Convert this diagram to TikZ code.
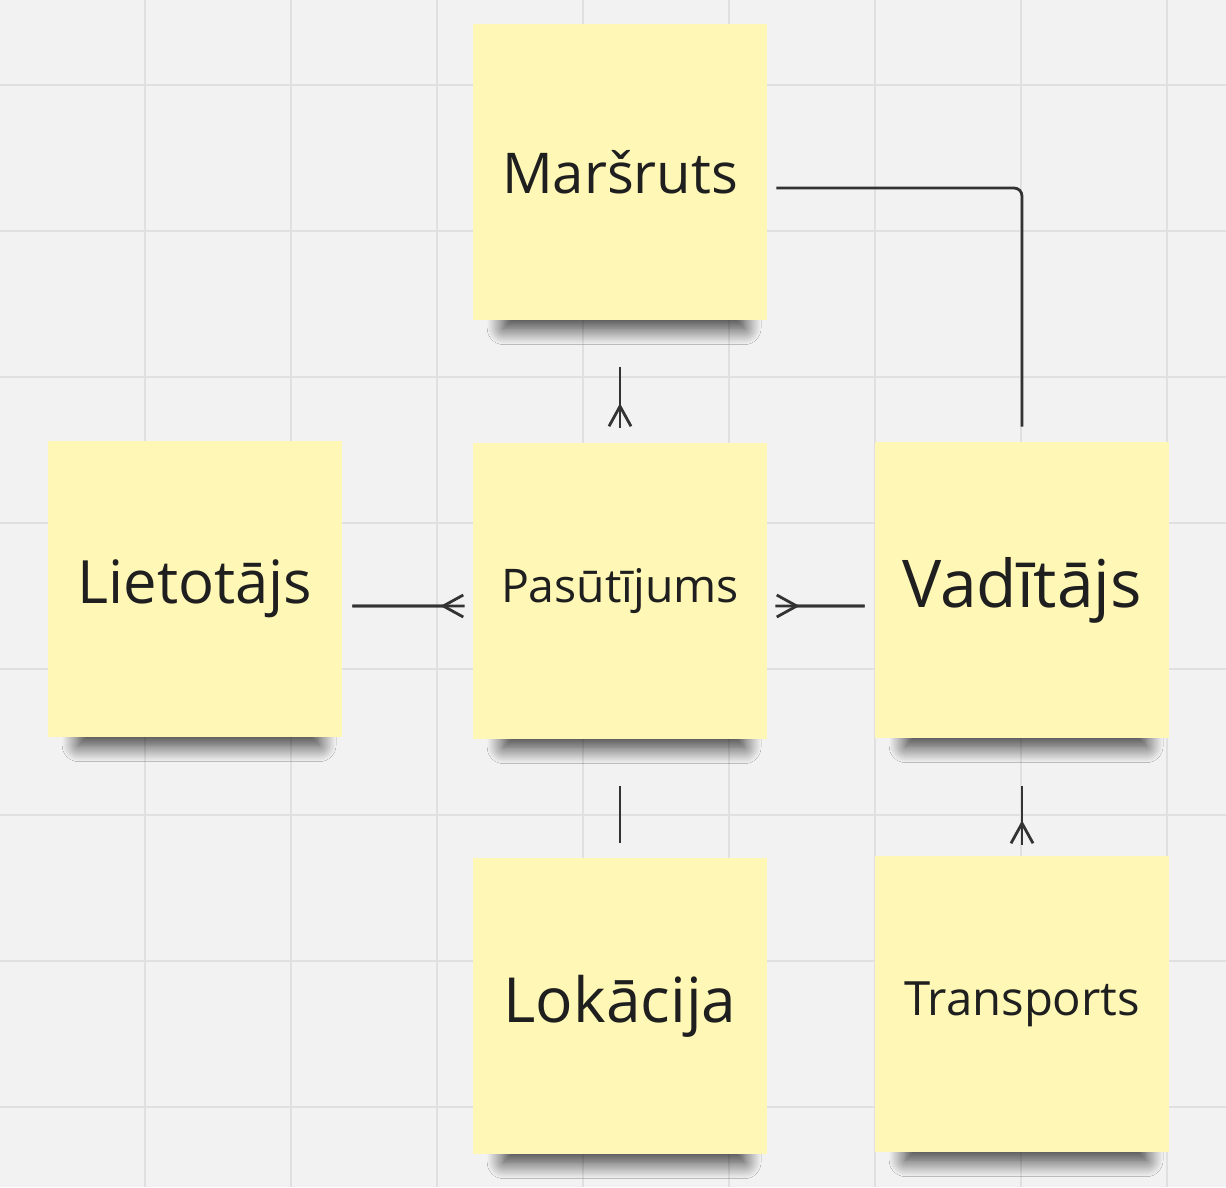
\documentclass[tikz,border=0pt]{standalone}
\usepackage{fontspec}
\setmainfont{Open Sans}
\usetikzlibrary{arrows.meta,shadows.blur}
\definecolor{paper}{HTML}{F2F2F2}
\definecolor{gridline}{HTML}{E0E0E0}
\definecolor{sticky}{HTML}{FEF7B5}
\definecolor{ink}{HTML}{333333}
\tikzset{
  note/.style={fill=sticky, minimum width=5.88cm, minimum height=5.92cm, inner sep=0pt, text=black!88,
    blur shadow={shadow xshift=0.1cm, shadow yshift=-0.85cm, shadow blur radius=0.4cm, shadow opacity=80, shadow scale=0.82, shadow blur steps=20}},
  link/.style={draw=ink, line width=1.6pt},
  crow/.style={link, postaction={draw=ink, line width=1.6pt, -{Straight Barb[reversed, length=0.4cm, width=0.44cm, line width=1.6pt]}}}
}
\begin{document}
\begin{tikzpicture}[x=0.02cm,y=-0.02cm]
\fill[paper] (0,0) rectangle (1226,1187);
\useasboundingbox (0,0) rectangle (1226,1187);
\foreach \g in {145,291,...,1167} \draw[gridline, line width=0.8pt] (\g,0) -- (\g,1187);
\foreach \g in {85,231,...,1107} \draw[gridline, line width=0.8pt] (0,\g) -- (1226,\g);
\node[note, font=\fontsize{32}{38}\selectfont] (M) at (620,172) {Maršruts};
\node[note, font=\fontsize{34}{40}\selectfont] (L) at (195,589) {Lietotājs};
\node[note, font=\fontsize{26.4}{30}\selectfont] (P) at (620,591) {Pasūtījums};
\node[note, font=\fontsize{37.5}{44}\selectfont] (V) at (1022,590) {Vadītājs};
\node[note, font=\fontsize{35.4}{40}\selectfont] (K) at (620,1006) {Lokācija};
\node[note, font=\fontsize{26.9}{30}\selectfont] (T) at (1022,1004) {Transports};
\draw[crow, shorten <=0.94cm, shorten >=0.3cm] (M) -- (P);
\draw[crow, shorten <=0.2cm, shorten >=0.16cm] ([yshift=-0.34cm]L.east) -- ([yshift=-0.3cm]P.west);
\draw[crow, shorten <=0.2cm, shorten >=0.16cm] ([yshift=-0.32cm]V.west) -- ([yshift=-0.3cm]P.east);
\draw[link, rounded corners=0.16cm, shorten <=0.18cm, shorten >=0.3cm] ([yshift=-0.32cm]M.east) -| (V);
\draw[link, shorten <=0.94cm, shorten >=0.3cm] (P) -- (K);
\draw[crow, shorten <=0.96cm, shorten >=0.22cm] (V) -- (T);
\end{tikzpicture}
\end{document}
